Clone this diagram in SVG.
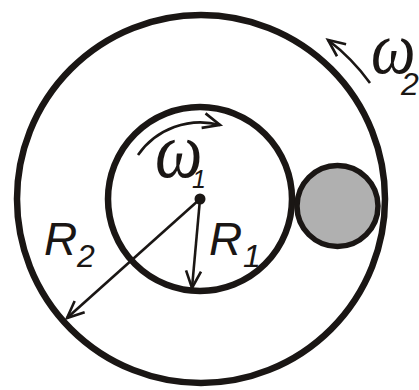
<svg xmlns="http://www.w3.org/2000/svg" width="419" height="390" viewBox="0 0 419 390">
<defs>
<style>
.ring{fill:none;stroke:#1a1614;stroke-width:6.5}
.ball{fill:#b0b0b0;stroke:#1a1614;stroke-width:5.5}
.arr{fill:none;stroke:#1a1614;stroke-width:2.6;marker-end:url(#open)}
.lbl{font-family:"Liberation Sans",Arial,sans-serif;font-style:italic;fill:#1a1614}
.om{font-family:"Liberation Serif","Times New Roman",serif;font-style:italic;fill:#1a1614}
</style>
<marker id="open" viewBox="-20 -10 24 20" markerWidth="24" markerHeight="20" refX="0" refY="0" orient="auto" markerUnits="userSpaceOnUse">
<path d="M-17,-7.5 L0,0 L-17,7.5" fill="none" stroke="#1a1614" stroke-width="2.6"/>
</marker>
</defs>
<g id="outer-disk"><circle class="ring" cx="201" cy="199" r="184"/></g>
<g id="inner-disk"><circle class="ring" cx="200" cy="199" r="92"/></g>
<g id="ball"><circle class="ball" cx="337.5" cy="206" r="40.5"/></g>
<g id="center"><circle cx="200" cy="199" r="5.5" fill="#1a1614"/></g>
<g id="connectors">
<path class="arr" d="M200,199 L192,288"/>
<path class="arr" d="M200,199 L67,318"/>
<path class="arr" d="M138,155 A76,76 0 0 1 220,125"/>
<path class="arr" d="M370,83 A204,204 0 0 0 328,40"/>
</g>
<g id="labels">
<text class="lbl" x="44" y="255" font-size="46">R</text>
<text class="lbl" x="77" y="267" font-size="32">2</text>
<text class="lbl" x="209" y="255" font-size="46">R</text>
<text class="lbl" x="243" y="267" font-size="32">1</text>
<text class="om" font-size="64" transform="translate(155,177) scale(1.05,1.25)">ω</text>
<text class="lbl" x="192" y="188" font-size="25">1</text>
<text class="om" font-size="60" transform="translate(371,73) scale(1.05,1.23)">ω</text>
<text class="lbl" x="401" y="95" font-size="32">2</text>
</g>
</svg>
